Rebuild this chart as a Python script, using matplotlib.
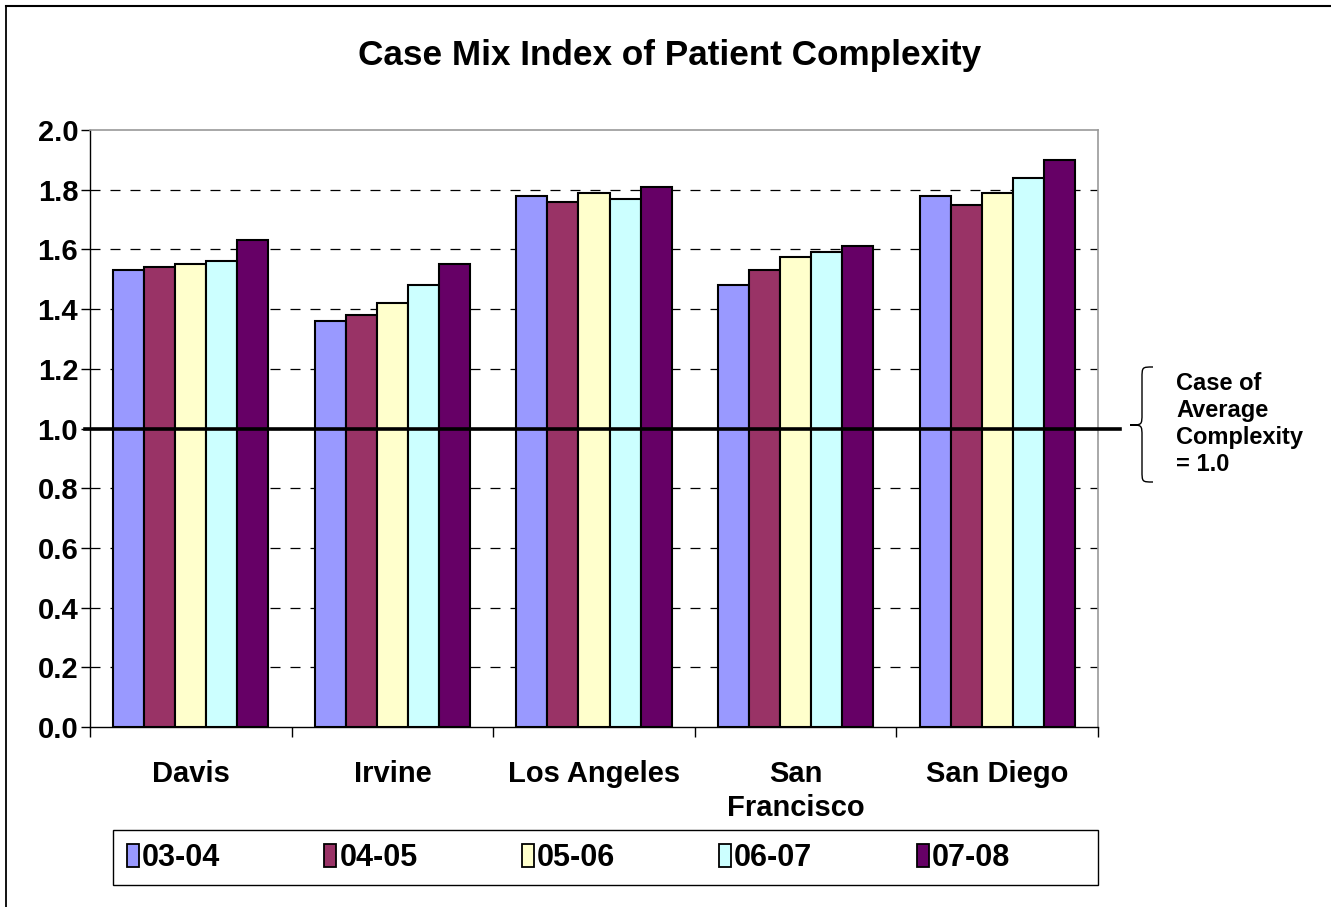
import numpy as np
import matplotlib
matplotlib.use("Agg")
import matplotlib.pyplot as plt
from matplotlib.patches import Patch, PathPatch, Rectangle
from matplotlib.path import Path
from matplotlib.lines import Line2D

plt.rcParams["font.family"] = ["Liberation Sans", "DejaVu Sans"]
plt.rcParams["font.weight"] = "bold"

# Data
campuses = ["Davis", "Irvine", "Los Angeles", "San\nFrancisco", "San Diego"]
years = ["03-04", "04-05", "05-06", "06-07", "07-08"]
cmi_0304 = [1.53, 1.36, 1.78, 1.48, 1.78]
cmi_0405 = [1.54, 1.38, 1.76, 1.53, 1.75]
cmi_0506 = [1.55, 1.42, 1.79, 1.575, 1.79]
cmi_0607 = [1.56, 1.48, 1.77, 1.59, 1.84]
cmi_0708 = [1.63, 1.55, 1.81, 1.61, 1.90]
average_cmi = 1.0
y_ticks = [0.0, 0.2, 0.4, 0.6, 0.8, 1.0, 1.2, 1.4, 1.6, 1.8, 2.0]

colors = ["#9999FF", "#993366", "#FFFFCC", "#CCFFFF", "#660066"]

W, H = 1331, 907


def draw_brace(fig, x_tip, x_mid, x_end, y_top, y_mid, y_bot):
    """Curly brace in figure fraction coords, opening to the right."""
    r = (y_top - y_mid) * 0.2
    verts = [
        (x_end, y_top),
        (x_mid, y_top), (x_mid, y_top), (x_mid, y_top - r),
        (x_mid, y_mid + r),
        (x_mid, y_mid), (x_mid, y_mid), (x_tip, y_mid),
        (x_mid, y_mid), (x_mid, y_mid), (x_mid, y_mid - r),
        (x_mid, y_bot + r),
        (x_mid, y_bot), (x_mid, y_bot), (x_end, y_bot),
    ]
    codes = [Path.MOVETO,
             Path.CURVE4, Path.CURVE4, Path.CURVE4,
             Path.LINETO,
             Path.CURVE4, Path.CURVE4, Path.CURVE4,
             Path.CURVE4, Path.CURVE4, Path.CURVE4,
             Path.LINETO,
             Path.CURVE4, Path.CURVE4, Path.CURVE4]
    patch = PathPatch(Path(verts, codes), transform=fig.transFigure,
                      facecolor="none", edgecolor="black", lw=1.0)
    fig.patches.append(patch)


fig = plt.figure(figsize=(13.31, 9.07), dpi=100)
ax = fig.add_axes([90 / W, 1 - 727 / H, 1008 / W, 597 / H])

series = [cmi_0304, cmi_0405, cmi_0506, cmi_0607, cmi_0708]
x = np.arange(len(campuses))
width = 0.154
for j, vals in enumerate(series):
    ax.bar(x + (j - 2) * width, vals, width=width, color=colors[j],
           edgecolor="black", linewidth=1.5, zorder=3)

ax.set_xlim(-0.5, len(campuses) - 0.5)
ax.set_ylim(0, 2.0)
ax.set_yticks(y_ticks)
ax.set_yticklabels([f"{v:.1f}" for v in y_ticks], fontsize=21, fontweight="bold")
ax.set_xticks(x)
ax.set_xticklabels(campuses, fontsize=21, fontweight="bold", linespacing=1.25)
ax.set_xticks(np.arange(-0.5, len(campuses), 1.0), minor=True)
ax.tick_params(axis="x", which="major", length=0, pad=24)
ax.tick_params(axis="x", which="minor", length=7, width=1, direction="out")
ax.tick_params(axis="y", length=6.5, width=1, pad=2)

# dashed gridlines
for v in y_ticks[1:-1]:
    ax.axhline(v, color="black", lw=0.9, ls=(0, (8, 8)), zorder=1)

# reference line for average complexity
ax.plot([-0.005, 1.022], [average_cmi, average_cmi], transform=ax.get_yaxis_transform(),
        color="black", lw=2.6, clip_on=False, zorder=5)

for side in ["top", "right"]:
    ax.spines[side].set_color("#999999")
    ax.spines[side].set_linewidth(1.2)
for side in ["left", "bottom"]:
    ax.spines[side].set_color("black")
    ax.spines[side].set_linewidth(1.0)

fig.text(670 / W, 1 - 55 / H, "Case Mix Index of Patient Complexity", ha="center", va="center",
         fontsize=25.3, fontweight="bold")

# brace + annotation
y0 = 1 - 425 / H
draw_brace(fig, 1130 / W, 1142 / W, 1153 / W, 1 - 367 / H, y0, 1 - 482 / H)
fig.text(1176 / W, 1 - 424 / H, "Case of\nAverage\nComplexity\n= 1.0", ha="left", va="center",
         fontsize=17, fontweight="bold", linespacing=1.24)

# legend: frame drawn separately so the entries keep their own spacing
fig.patches.append(Rectangle((113 / W, 1 - 885 / H), 985 / W, 55 / H, transform=fig.transFigure,
                             facecolor="white", edgecolor="black", lw=1.0, zorder=0))
handles = [Patch(facecolor=c, edgecolor="black", linewidth=1.3) for c in colors]
leg = fig.legend(handles, years, ncol=5, loc="center left",
                 bbox_to_anchor=(127 / W, 1 - 858 / H), frameon=False,
                 handlelength=0.39, handleheight=0.75, handletextpad=0.1,
                 columnspacing=3.41, borderaxespad=0, borderpad=0,
                 prop={"family": ["Liberation Sans Narrow", "DejaVu Sans Condensed", "Liberation Sans"],
                       "weight": "bold", "size": 22})

# outer border (left and top only, as in the cropped original)
fig.add_artist(Line2D([6 / W, 6 / W], [0, 1 - 6 / H], color="black", lw=1.3))
fig.add_artist(Line2D([6 / W, 1], [1 - 6 / H, 1 - 6 / H], color="black", lw=1.5))

fig.savefig("out.png", dpi=100)
